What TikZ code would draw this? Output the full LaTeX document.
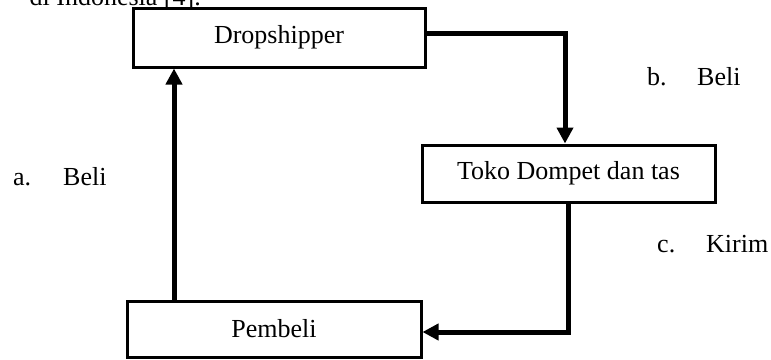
\documentclass[tikz,border=0pt]{standalone}
\usepackage{fontspec}
\setmainfont{Liberation Serif}
\usetikzlibrary{arrows.meta}
\tikzset{
  box/.style={draw=black, line width=3pt, fill=white, inner sep=0pt, font=\fontsize{26}{30}\selectfont},
  conn/.style={draw=black, line width=5pt, -{Triangle[length=16pt,width=16pt]}},
  lbl/.style={anchor=base west, inner sep=0pt, font=\fontsize{26}{30}\selectfont},
}
\begin{document}
\begin{tikzpicture}[x=1pt,y=-1pt]
\useasboundingbox (0,0) rectangle (771,359);
\clip (0,0) rectangle (771,359);
% cropped text of the surrounding page
\node[anchor=base east, inner sep=0pt, font=\fontsize{26}{30}\selectfont] (top) at (201,5) {di Indonesia [4].};
% boxes
\node[box, minimum width=292pt, minimum height=59pt] (drop) at (279,37.5) {Dropshipper};
\node[box, minimum width=293pt, minimum height=57pt] (toko) at (568.5,173.5) {Toko Dompet dan tas};
\node[box, minimum width=294pt, minimum height=56pt] (pemb) at (274,329) {Pembeli};
% connectors
\draw[conn] ([yshift=4.5pt]drop.east) -| ([xshift=-3.5pt]toko.north);
\draw[conn] ([xshift=-0.5pt]toko.south) |- ([yshift=-3pt]pemb.east);
\draw[conn] ([xshift=-100pt]pemb.north) -- ([xshift=-105pt]drop.south);
% labels
\node[lbl] (la) at (13,185) {\makebox[50pt][l]{a.}Beli};
\node[lbl] (lb) at (647,85) {\makebox[50pt][l]{b.}Beli};
\node[lbl] (lc) at (657,252) {\makebox[49pt][l]{c.}Kirim};
\end{tikzpicture}
\end{document}
